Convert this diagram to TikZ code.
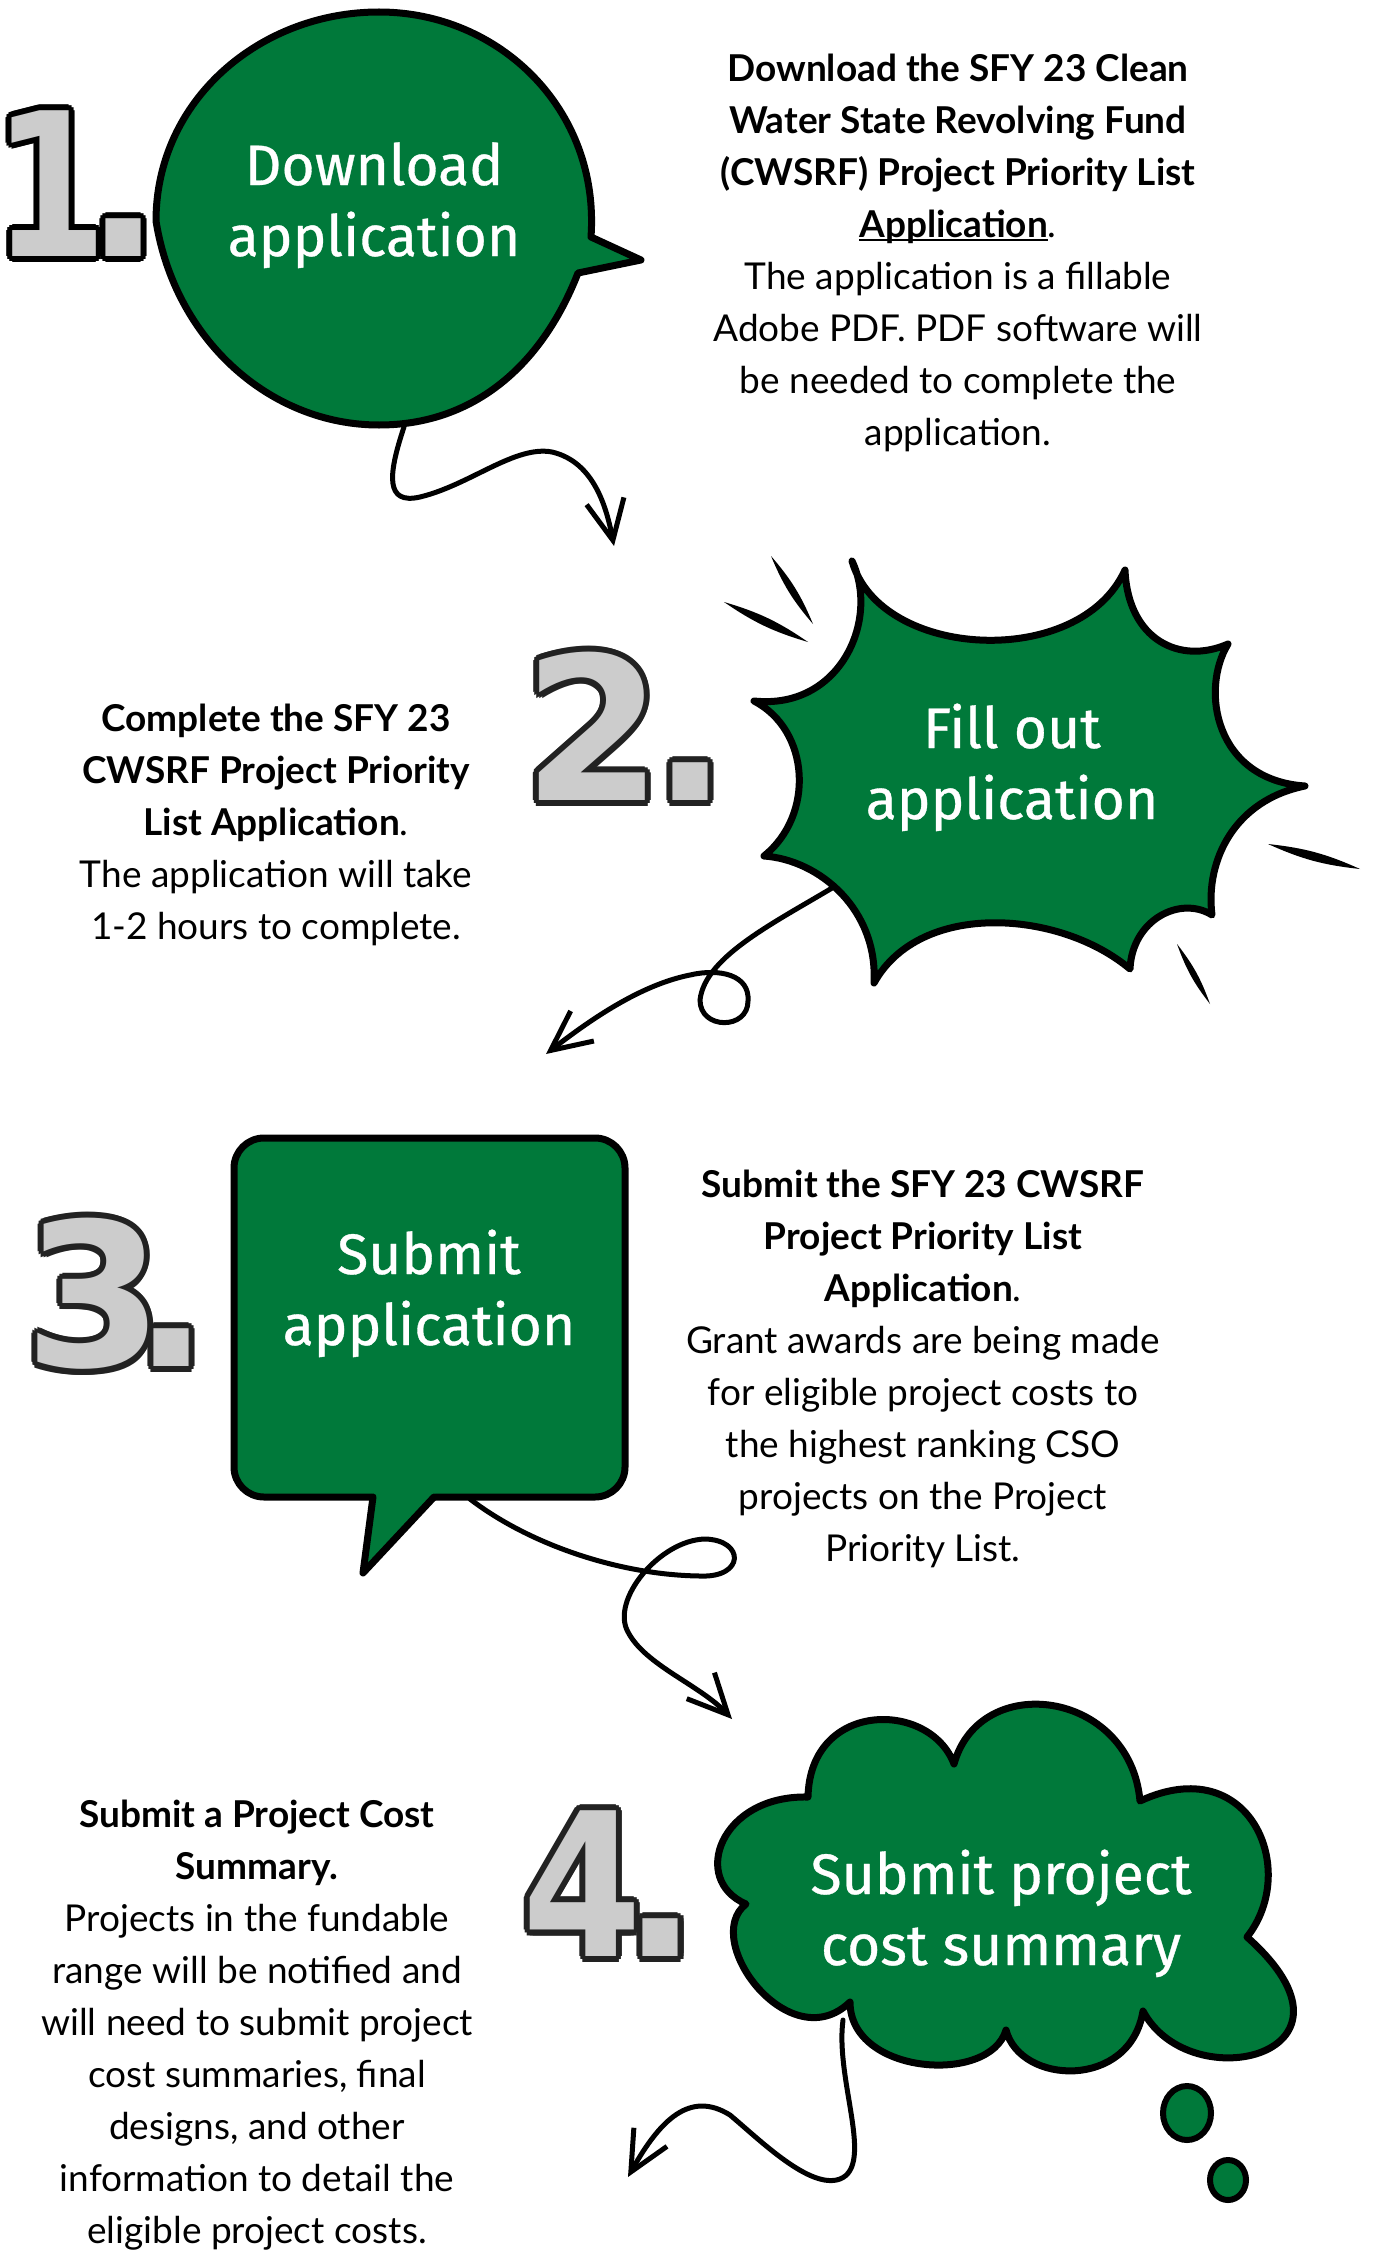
\documentclass[tikz,border=0pt]{standalone}
\usepackage{graphicx}
\usepackage{fontspec}
\setmainfont{Lato}
\newfontfamily\bubblefont{Fira Sans}[FakeBold=0.6]
\newfontfamily\numfont{DejaVu Sans}
\usetikzlibrary{arrows.meta}

\definecolor{bubblegreen}{HTML}{00793A}
\definecolor{numgray}{HTML}{CCCCCC}
\definecolor{numedge}{HTML}{222222}

% underlined word, line just under the baseline
\newcommand{\ulword}[1]{\setbox0\hbox{#1}\rlap{\rule[-0.12em]{\wd0}{0.07em}}\box0}
% outlined step number: name, position, text, edge colour
\newcommand{\bignum}[4]{%
	\foreach \a in {0,30,...,330}
		\node[bignumber, text=#4, xshift={6*cos(\a)}, yshift={6*sin(\a)}] (#1-\a) at (#2) {#3};
	\node[bignumber, text=numgray] (#1) at (#2) {#3};}

\begin{document}
\begin{tikzpicture}[x=1pt, y=-1pt,
		bubble/.style={fill=bubblegreen, draw=black, line width=7pt, line join=round},
		bubbletext/.style={text=white, font=\bubblefont\fontsize{57}{71}\selectfont, align=center, anchor=base, inner sep=0pt},
		desc/.style={font=\fontsize{37}{52}\selectfont, align=center, anchor=base, inner sep=0pt},
		swirl/.style={line width=5pt, line cap=round, -{Straight Barb[length=40pt, width=38pt]}},
		bignumber/.style={font=\numfont\bfseries\fontsize{200}{200}\selectfont, anchor=south west, inner sep=0pt},
		puff/.style={fill=bubblegreen, draw=black, line width=6pt},
	]

	\fill[white] (0,0) rectangle (1373,2253);
	\useasboundingbox (0,0) rectangle (1373,2253);

	% arrows
	\coordinate (tail1) at (404,427);
	\coordinate (tip1) at (614,546);
	\coordinate (tail2) at (842,882);
	\coordinate (tip2) at (546,1054);
	\coordinate (tail3) at (470,1499);
	\coordinate (tip3) at (732,1719);
	\coordinate (tail4) at (843,2020);
	\coordinate (tip4) at (628,2177);
	\draw[swirl] (tail1) .. controls (388,475) and (385,505) .. (420,497)
		.. controls (470,485) and (515,445) .. (552,452)
		.. controls (595,462) and (607,510) .. (tip1);
	\draw[swirl] (tail2) .. controls (780,920) and (705,955) .. (700,1000)
		.. controls (700,1030) and (748,1030) .. (748,1001)
		.. controls (750,975) and (720,968) .. (690,975)
		.. controls (640,985) and (590,1020) .. (tip2);
	\draw[swirl] (tail3) .. controls (530,1545) and (620,1575) .. (700,1576)
		.. controls (745,1578) and (745,1540) .. (705,1539)
		.. controls (660,1540) and (610,1600) .. (628,1632)
		.. controls (645,1665) and (700,1685) .. (tip3);
	\draw[swirl] (tail4) .. controls (835,2080) and (875,2165) .. (840,2179)
		.. controls (810,2190) and (760,2140) .. (730,2115)
		.. controls (690,2090) and (660,2120) .. (tip4);

	% step 1
	\bignum{num1}{10,257}{\kern-17pt\scalebox{0.82}[1]{1}\kern-0.11em.}{black}
	\filldraw[bubble] (591,237) -- (641,260) -- (578,273)
		.. controls (540,370) and (470,425) .. (379,425)
		.. controls (270,425) and (175,340) .. (156,221)
		.. controls (156,100) and (260,12) .. (379,12)
		.. controls (500,12) and (600,110) .. (591,237) -- cycle;
	\node[bubbletext] (bub1) at (374,256) {Download\\application};
	\node[desc] (desc1) at (958,445) {\textbf{Download the SFY 23 Clean}\\\textbf{Water State Revolving Fund}\\\textbf{(CWSRF) Project Priority List}\\\ulword{\textbf{Application}}.\\The application is a fillable\\Adobe PDF. PDF software will\\be needed to complete the\\application.};

	% step 2
	\bignum{num2}{523,801}{2\kern-0.05em.}{numedge}
	\filldraw[bubble] (852,561) .. controls (880,660) and (1080,670) .. (1125,570)
		.. controls (1128,640) and (1180,665) .. (1228,644)
		.. controls (1200,690) and (1215,780) .. (1305,786)
		.. controls (1235,800) and (1205,860) .. (1212,915)
		.. controls (1180,895) and (1132,920) .. (1130,969)
		.. controls (1060,910) and (920,900) .. (874,983)
		.. controls (878,910) and (820,860) .. (764,856)
		.. controls (815,815) and (810,730) .. (754,701)
		.. controls (840,710) and (880,620) .. (852,561) -- cycle;
	\fill (771,556) to[bend left=9] (813,624) to[bend left=9] (771,556);
	\fill (724,602) to[bend left=9] (808,642) to[bend left=9] (724,602);
	\fill (1268,844) to[bend left=9] (1360,869) to[bend left=9] (1268,844);
	\fill (1177,944) to[bend left=9] (1210,1004) to[bend left=9] (1177,944);
	\node[bubbletext] (bub2) at (1012,819) {Fill out\\application};
	\node[desc] (desc2) at (276,939) {\textbf{Complete the SFY 23}\\\textbf{CWSRF Project Priority}\\\textbf{List Application}.\\The application will take\\1-2 hours to complete.};

	% step 3
	\bignum{num3}{24,1370}{3\kern-0.15em.}{numedge}
	\filldraw[bubble, rounded corners=30pt] (234,1138) rectangle (625,1497);
	\fill[bubblegreen] (373,1488) -- (440,1488) -- (363,1573) -- cycle;
	\draw[line width=7pt, line join=round, line cap=round] (434,1497) -- (363,1573) -- (373,1497);
	\node[bubbletext] (bub3) at (429,1345) {Submit\\application};
	\node[desc] (desc3) at (923,1561) {\textbf{Submit the SFY 23 CWSRF}\\\textbf{Project Priority List}\\\textbf{Application}.\\Grant awards are being made\\for eligible project costs to\\the highest ranking CSO\\projects on the Project\\Priority List.};

	% step 4
	\bignum{num4}{522,1957}{\scalebox{0.86}[1]{4}\kern-0.095em.}{numedge}
	\filldraw[bubble] (808,1797) .. controls (720,1795) and (690,1880) .. (746,1904)
		.. controls (700,1940) and (790,2060) .. (850,2002)
		.. controls (850,2075) and (990,2085) .. (1006,2030)
		.. controls (1020,2085) and (1130,2090) .. (1143,2011)
		.. controls (1190,2100) and (1380,2055) .. (1247,1937)
		.. controls (1300,1870) and (1250,1750) .. (1140,1801)
		.. controls (1130,1690) and (980,1670) .. (954,1764)
		.. controls (930,1700) and (810,1700) .. (808,1797) -- cycle;
	\filldraw[puff] (1187,2113) ellipse [x radius=24pt, y radius=27pt];
	\filldraw[puff] (1228,2180) ellipse [x radius=18pt, y radius=20pt];
	\node[bubbletext] (bub4) at (1001,1965) {Submit project\\cost summary};
	\node[desc] (desc4) at (257,2243) {\textbf{Submit a Project Cost}\\\textbf{Summary.}\\Projects in the fundable\\range will be notified and\\will need to submit project\\cost summaries, final\\designs, and other\\information to detail the\\eligible project costs.};
\end{tikzpicture}
\end{document}
